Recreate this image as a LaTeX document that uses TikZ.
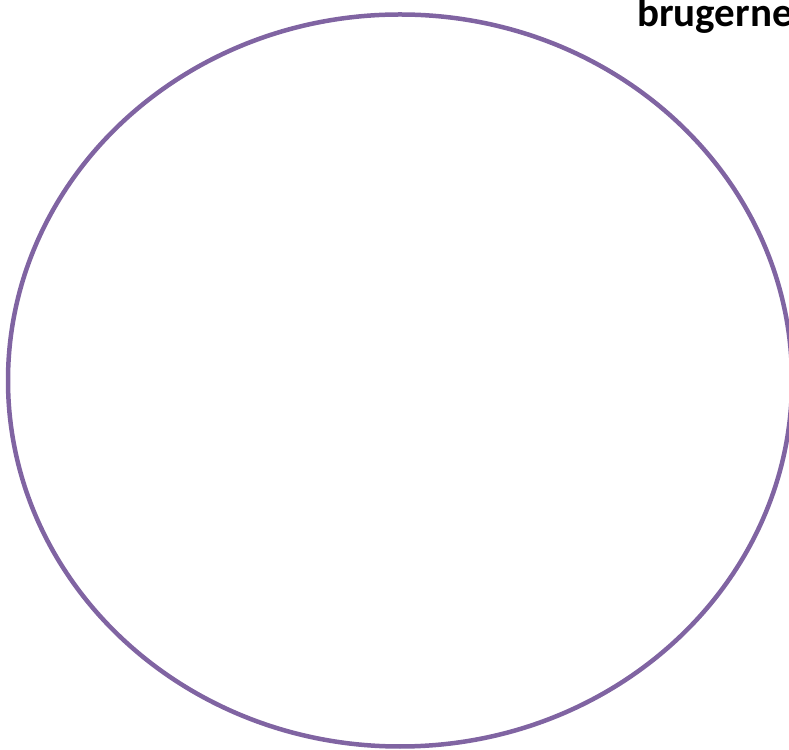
\documentclass[tikz,border=0pt]{standalone}
\usepackage{fontspec}
\setmainfont{Carlito}
\definecolor{ringpurple}{HTML}{8064A2}
\tikzset{ring/.style={draw=ringpurple,line width=4.5pt}}
\begin{document}
\begin{tikzpicture}[x=1pt,y=1pt]
\useasboundingbox (0,0) rectangle (789,749);
\draw[ring] (400,368.5) ellipse [x radius=392, y radius=366];
\node[anchor=base west,inner sep=0pt,font=\bfseries\fontsize{41}{48}\selectfont] (lbl) at (637,722) {brugerne};
\end{tikzpicture}
\end{document}
